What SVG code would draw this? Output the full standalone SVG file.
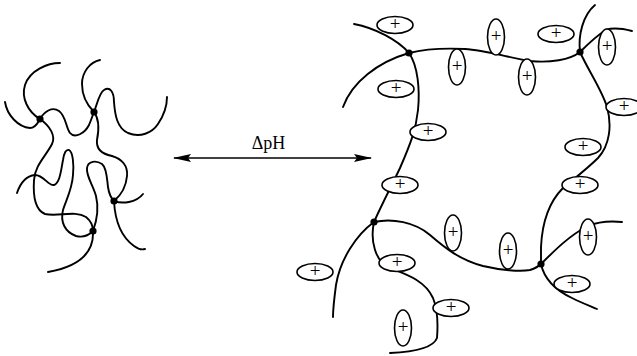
<svg xmlns="http://www.w3.org/2000/svg" width="637" height="356" viewBox="0 0 637 356">
  <style>
    .chain { fill: none; stroke: #000; stroke-width: 1.9; stroke-linecap: round; }
    .xl { fill: #000; }
    .ion { fill: #fff; stroke: #000; stroke-width: 1.6; }
    .sign { font-family: "Liberation Serif", "Times New Roman", serif; font-size: 19px; text-anchor: middle; fill: #000; }
    .label { font-family: "Liberation Serif", "Times New Roman", serif; font-size: 18px; text-anchor: middle; fill: #000; }
    .shaft { stroke: #000; stroke-width: 1.4; fill: none; }
  </style>
  <defs>
    <marker id="head" viewBox="0 0 18 8" refX="17" refY="4" markerWidth="18" markerHeight="8" markerUnits="userSpaceOnUse" orient="auto-start-reverse">
      <path d="M0,0 L18,4 L0,8 L3,4 Z" fill="#000"/>
    </marker>
  </defs>
  <rect width="637" height="356" fill="#fff"/>

  <!-- collapsed network (low charge) -->
  <g id="collapsed-network">
    <path class="chain" d="M60,63 C48,63 30,70 25,85 C21,98 28,112 40,119 C50,126 56,136 52,144 C46,156 35,165 34,180 C33,195 35,210 45,214 C58,217 75,210 86,217 C91,221 93,226 93,231"/>
    <path class="chain" d="M93,231 C94,250 82,266 48,272"/>
    <path class="chain" d="M5,102 C7,115 18,127 30,128 C36,128 38,122 40,119 C44,112 52,106 59,111 C66,116 66,128 70,133 C75,139 85,133 89,125 C92,118 93,114 94,112 C97,105 99,93 104,90 C110,86 114,92 114,102 C115,115 117,128 128,133 C140,138 152,133 158,124 C164,115 167,105 167,97"/>
    <path class="chain" d="M100,60 C90,62 82,72 82,84 C82,97 88,106 94,112 C100,120 99,130 97,140 C96,149 102,154 112,156 C122,159 128,166 127,176 C126,188 120,196 114,201"/>
    <path class="chain" d="M114,201 C115,220 120,236 134,246 C138,249 142,250 145,249"/>
    <path class="chain" d="M114,201 C122,204 136,203 143,194"/>
    <path class="chain" d="M17,193 C20,184 26,176 35,175 C44,175 48,186 54,185 C60,183 61,170 63,160 C64,153 66,149 69,150 C73,152 74,165 73,175 C72,190 66,200 63,210 C60,222 65,232 76,236 C84,238 90,234 93,231"/>
    <path class="chain" d="M93,231 C97,220 99,208 96,196 C93,185 86,176 87,168 C88,161 96,160 102,164 C107,168 107,180 108,187 C109,194 111,198 114,201"/>
    <circle class="xl" cx="40" cy="119" r="3.6"/>
    <circle class="xl" cx="94" cy="112" r="3.6"/>
    <circle class="xl" cx="114" cy="201" r="3.6"/>
    <circle class="xl" cx="93" cy="231" r="3.6"/>
  </g>

  <!-- pH change arrow -->
  <g id="connectors">
    <line class="shaft" x1="174" y1="158" x2="371" y2="158" marker-start="url(#head)" marker-end="url(#head)"/>
    <text class="label" x="268.5" y="149">ΔpH</text>
  </g>

  <!-- swollen network (charged) -->
  <g id="swollen-network">
    <path class="chain" d="M354,24 C375,28 398,40 409,53 C418,66 420,90 418,110 C416,130 410,145 400,168 C392,185 382,204 374,222"/>
    <path class="chain" d="M343,107 C352,82 378,62 409,53 C425,49 445,48 465,49 C485,50 510,58 530,61 C550,63 570,60 580,52"/>
    <path class="chain" d="M595,5 C583,15 578,35 580,52"/>
    <path class="chain" d="M580,52 C588,44 596,36 606,30 C614,27 624,29 632,31"/>
    <path class="chain" d="M580,52 C588,70 602,90 607,107 C612,125 610,145 598,158 C588,168 575,178 563,188 C548,203 542,225 541,247 L541,264"/>
    <path class="chain" d="M374,222 C392,218 415,222 430,235 C445,248 460,260 483,266 C500,270 520,272 530,270 C536,268 539,266 541,264"/>
    <path class="chain" d="M374,222 C356,235 340,260 336,285 C334,300 333,310 333,317"/>
    <path class="chain" d="M374,222 C370,240 375,262 390,268 C405,274 425,280 433,298 C438,310 438,325 437,338 C433,349 412,352 390,353"/>
    <path class="chain" d="M541,264 C555,250 570,235 588,226 C600,221 612,221 622,222"/>
    <path class="chain" d="M541,264 C544,278 555,290 572,298 C582,303 590,306 597,309"/>
    <circle class="xl" cx="409" cy="53" r="3.6"/>
    <circle class="xl" cx="580" cy="52" r="3.6"/>
    <circle class="xl" cx="374" cy="222" r="3.6"/>
    <circle class="xl" cx="541" cy="264" r="3.6"/>
  </g>

  <!-- fixed charges -->
  <g id="charges" opacity="0.999">
    <g id="c1"><ellipse class="ion" cx="395" cy="25" rx="18" ry="8.5"/><text class="sign" x="395" y="30">+</text></g>
    <g id="c2"><ellipse class="ion" cx="396" cy="89" rx="18" ry="8.5"/><text class="sign" x="396" y="94">+</text></g>
    <g id="c3"><ellipse class="ion" cx="428" cy="132" rx="18" ry="8.5"/><text class="sign" x="428" y="137">+</text></g>
    <g id="c4"><ellipse class="ion" cx="556" cy="34" rx="18" ry="8.5"/><text class="sign" x="556" y="39">+</text></g>
    <g id="c5"><ellipse class="ion" cx="624" cy="107" rx="18" ry="8.5"/><text class="sign" x="624" y="112">+</text></g>
    <g id="c6"><ellipse class="ion" cx="583" cy="147" rx="18" ry="8.5"/><text class="sign" x="583" y="152">+</text></g>
    <g id="c7"><ellipse class="ion" cx="400" cy="185" rx="18" ry="8.5"/><text class="sign" x="400" y="190">+</text></g>
    <g id="c8"><ellipse class="ion" cx="397" cy="263" rx="18" ry="8.5"/><text class="sign" x="397" y="268">+</text></g>
    <g id="c9"><ellipse class="ion" cx="315" cy="272" rx="18" ry="8.5"/><text class="sign" x="315" y="277">+</text></g>
    <g id="c10"><ellipse class="ion" cx="451" cy="308" rx="18" ry="8.5"/><text class="sign" x="451" y="313">+</text></g>
    <g id="c11"><ellipse class="ion" cx="580" cy="185" rx="18" ry="8.5"/><text class="sign" x="580" y="190">+</text></g>
    <g id="c12"><ellipse class="ion" cx="572" cy="284" rx="18" ry="8.5"/><text class="sign" x="572" y="289">+</text></g>
    <g id="c13"><ellipse class="ion" cx="457" cy="67" rx="8.5" ry="18"/><text class="sign" x="457" y="72">+</text></g>
    <g id="c14"><ellipse class="ion" cx="496" cy="37" rx="8.5" ry="18"/><text class="sign" x="496" y="42">+</text></g>
    <g id="c15"><ellipse class="ion" cx="527" cy="77" rx="8.5" ry="18"/><text class="sign" x="527" y="82">+</text></g>
    <g id="c16"><ellipse class="ion" cx="607" cy="47" rx="8.5" ry="18"/><text class="sign" x="607" y="52">+</text></g>
    <g id="c17"><ellipse class="ion" cx="453" cy="233" rx="8.5" ry="18"/><text class="sign" x="453" y="238">+</text></g>
    <g id="c18"><ellipse class="ion" cx="403" cy="328" rx="8.5" ry="18"/><text class="sign" x="403" y="333">+</text></g>
    <g id="c19"><ellipse class="ion" cx="508" cy="251" rx="8.5" ry="18"/><text class="sign" x="508" y="256">+</text></g>
    <g id="c20"><ellipse class="ion" cx="588" cy="237" rx="8.5" ry="18"/><text class="sign" x="588" y="242">+</text></g>
  </g>
</svg>
